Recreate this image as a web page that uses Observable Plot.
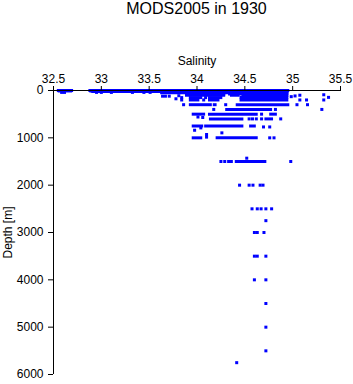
<!DOCTYPE html>
<html>
<head>
<meta charset="utf-8">
<script src="https://cdn.jsdelivr.net/npm/d3@7"></script>
<script src="https://cdn.jsdelivr.net/npm/@observablehq/plot@0.6"></script>
<style>
  html, body { margin: 0; padding: 0; background: #fff; }
  #title { position: relative; margin-left: 40px; width: 313px; height: 20px; line-height: 16px;
    text-align: center; font: 16px "Liberation Sans", Arial, sans-serif; color: #000; }
  #chart svg { display: block; }
</style>
</head>
<body>
<div id="title">MODS2005 in 1930</div>
<div id="chart"></div>
<script>
// Dense runs of observations at standard depths: depth (m), salinity from, salinity to
const runDepth = [0, 0, 10, 10, 20, 50,
  75, 75, 75, 100, 100, 100, 150, 150, 150, 200, 200, 200,
  300, 300, 300, 400, 500, 500, 500, 600, 600,
  750, 750, 750, 1000, 1000, 1500, 1500];
const runFrom = [32.54, 32.87, 32.55, 32.88, 32.90, 33.62,
  33.88, 34.11, 34.33, 33.88, 34.35, 34.47, 33.92, 34.12, 34.45, 33.92, 34.12, 34.45,
  33.92, 34.17, 34.41, 34.30, 33.95, 34.12, 34.76, 34.13, 34.71,
  33.95, 34.08, 34.55, 33.95, 34.20, 34.32, 34.40];
const runTo = [32.71, 34.97, 32.70, 34.96, 34.96, 34.96,
  34.09, 34.30, 34.96, 34.30, 34.45, 34.96, 34.06, 34.27, 34.96, 34.03, 34.24, 34.96,
  34.16, 34.21, 34.97, 34.79, 34.09, 34.64, 34.84, 34.49, 34.80,
  34.07, 34.49, 34.62, 34.06, 34.64, 34.38, 34.73];

// Isolated observations: depth (m), salinity
const ptDepth = [40, 40, 40, 40, 40, 40, 40, 40, 40,
  175, 150, 200, 120, 120, 120, 110, 150, 200,
  130, 115, 100, 200, 200, 90, 145, 200,
  300, 300, 300, 300,
  400, 400, 400,
  500, 560, 570,
  600, 600, 600, 600, 600,
  770, 770, 790, 840,
  895, 930, 985, 1000, 1000,
  1430, 1500, 1500, 1500,
  2000, 2000, 2000, 2000, 2000,
  2500, 2500, 2500, 2500, 2500,
  2750, 3000, 3000, 3000, 3500, 3500, 3500, 4000, 4000,
  4500, 5000, 5500, 5750];
const ptSal = [32.585, 32.615, 32.95, 33.0, 33.105, 33.325, 33.445, 33.51, 33.64,
  33.78, 33.84, 33.84, 33.64, 33.67, 33.71, 33.81, 34.09, 34.07,
  34.985, 35.025, 35.075, 35.075, 35.145, 35.325, 35.375, 35.325,
  33.86, 34.30, 35.045, 35.155,
  34.175, 34.82, 35.305,
  34.675, 34.01, 34.06,
  34.545, 34.58, 34.62, 34.675, 34.875,
  34.695, 34.76, 34.04, 33.975,
  34.26, 34.10, 34.10, 34.76, 34.805,
  34.52, 34.25, 34.29, 34.98,
  34.445, 34.545, 34.585, 34.66, 34.69,
  34.575, 34.63, 34.67, 34.72, 34.78,
  34.72, 34.60, 34.63, 34.70, 34.60, 34.63, 34.72, 34.60, 34.72,
  34.72, 34.72, 34.72, 34.415];

const xTicks = [32.5, 33, 33.5, 34, 34.5, 35, 35.5];
const yTicks = [0, 1000, 2000, 3000, 4000, 5000, 6000];

const runs = runDepth.map((d, i) => ({depth: d, from: runFrom[i], to: runTo[i]}));
const pts = ptDepth.map((d, i) => ({depth: d, sal: ptSal[i]}));

const chart = Plot.plot({
  width: 353,
  height: 364,
  marginTop: 70,
  marginLeft: 53,
  marginRight: 13,
  marginBottom: 10,
  style: {fontFamily: "'Liberation Sans', Arial, sans-serif", fontSize: "12px", color: "#000", background: "#fff"},
  x: {domain: [32.5, 35.5]},
  y: {domain: [0, 6000], reverse: true},
  marks: [
    Plot.ruleY(runs, {y: "depth", x1: "from", x2: "to", stroke: "#0000ff", strokeWidth: 3}),
    Plot.dot(pts, {x: "sal", y: "depth", symbol: "square", r: 1.7, fill: "#0000ff", stroke: "none"}),
    Plot.ruleY([0], {stroke: "#000"}),
    Plot.ruleX([32.5], {stroke: "#000"}),
    Plot.axisX({anchor: "top", ticks: xTicks, tickFormat: d => String(d), tickSize: 5, tickPadding: 3, label: null, fontSize: 12}),
    Plot.axisY({anchor: "left", ticks: yTicks, tickFormat: d => String(d), tickSize: 5, tickPadding: 5, label: null, fontSize: 12}),
    Plot.text(["Salinity"], {frameAnchor: "top", dy: -29, lineAnchor: "middle", textAnchor: "middle", fontSize: 12}),
    Plot.text(["Depth [m]"], {frameAnchor: "left", dx: -45, rotate: -90, textAnchor: "middle", lineAnchor: "middle", fontSize: 12})
  ]
});
document.getElementById("chart").appendChild(chart);
</script>
</body>
</html>
